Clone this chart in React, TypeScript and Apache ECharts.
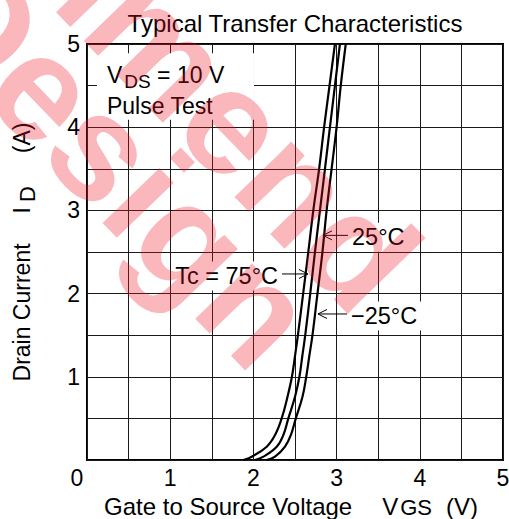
import { useEffect, useRef } from 'react';
import * as echarts from 'echarts';

// ---- data ----
const xTickValues = [0, 1, 2, 3, 4, 5];
const yTickValues = [0, 1, 2, 3, 4, 5];

// drain current levels (A) at which the three curves were read
const idLevels = [0, 0.04, 0.16, 0.3, 0.5, 0.76, 1, 1.25, 1.5, 2, 2.5, 3, 3.5, 4, 4.5, 5];
// gate-source voltage (V) of each curve at those currents
const vgsTc75 = [1.88, 1.98, 2.16, 2.26, 2.34, 2.41, 2.463, 2.5, 2.535, 2.598, 2.66, 2.72, 2.79, 2.85, 2.915, 2.98];
const vgsTc25 = [2.02, 2.12, 2.28, 2.36, 2.42, 2.5, 2.553, 2.588, 2.623, 2.683, 2.74, 2.8, 2.86, 2.92, 2.98, 3.04];
const vgsTcM25 = [2.16, 2.26, 2.38, 2.45, 2.51, 2.59, 2.635, 2.672, 2.71, 2.77, 2.83, 2.88, 2.94, 3.0, 3.05, 3.11];

const seriesNames = ['Tc = 75°C', '25°C', '−25°C'];

// annotation anchors in data units: arrow tail, arrow tip
const labelTexts = ['Tc = 75°C', '25°C', '−25°C'];
const arrowTails: [number, number][] = [[2.344, 2.236], [3.137, 2.7], [3.125, 1.755]];
const arrowTips: [number, number][] = [[2.656, 2.236], [2.836, 2.7], [2.776, 1.755]];

const FONT = "'Liberation Sans', Arial, Helvetica, sans-serif";

const toPairs = (xs: number[]) => idLevels.map((id, i) => [xs[i], id]);

export default function App() {
  const ref = useRef<HTMLDivElement>(null);

  useEffect(() => {
    if (!ref.current) return;
    const chart = echarts.init(ref.current, undefined, { renderer: 'svg' });

    const lineSeries = [vgsTc75, vgsTc25, vgsTcM25].map((xs, i) => ({
      name: seriesNames[i],
      type: 'line',
      data: toPairs(xs),
      smooth: 0.4,
      showSymbol: false,
      symbol: 'none',
      z: 3,
      lineStyle: { color: '#000', width: 2.2 },
    }));

    chart.setOption({
      animation: false,
      backgroundColor: '#fff',
      title: {
        text: 'Typical Transfer Characteristics',
        left: 290,
        top: 6,
        textAlign: 'center',
        textStyle: { fontFamily: FONT, fontSize: 24, fontWeight: 'normal', color: '#000' },
      },
      grid: {
        left: 87,
        top: 44,
        width: 416,
        height: 416,
        show: true,
        borderColor: '#000',
        borderWidth: 2,
        outerBoundsMode: 'none',
        containLabel: false,
      },
      xAxis: {
        type: 'value',
        min: 0,
        max: 5,
        interval: 0.5,
        axisLine: { show: false },
        axisTick: { show: false },
        splitLine: { show: true, lineStyle: { color: '#1a1a1a', width: 1 } },
        axisLabel: {
          margin: 6,
          color: '#000',
          fontFamily: FONT,
          fontSize: 23,
          formatter: (v: number) => {
            if (v === 0) return '{z|0}';
            return xTickValues.includes(v) ? String(v) : '';
          },
          rich: { z: { fontFamily: FONT, fontSize: 23, color: '#000', padding: [0, 20, 0, 0] } },
        },
        name: '{m|Gate to Source Voltage}{v|V}{s|GS}{u|(V)}',
        nameLocation: 'middle',
        nameGap: 33,
        nameTextStyle: {
          padding: [0, 8, 0, 0],
          rich: {
            m: { fontFamily: FONT, fontSize: 24, color: '#000', lineHeight: 22 },
            v: { fontFamily: FONT, fontSize: 24, color: '#000', lineHeight: 22, padding: [0, 0, 0, 30] },
            s: { fontFamily: FONT, fontSize: 22, color: '#000', lineHeight: 22, padding: [3, 0, 0, 2] },
            u: { fontFamily: FONT, fontSize: 24, color: '#000', lineHeight: 22, padding: [0, 0, 0, 14] },
          },
        },
      },
      yAxis: {
        type: 'value',
        min: 0,
        max: 5,
        interval: 0.5,
        axisLine: { show: false },
        axisTick: { show: false },
        splitLine: { show: true, lineStyle: { color: '#1a1a1a', width: 1 } },
        axisLabel: {
          margin: 7,
          color: '#000',
          fontFamily: FONT,
          fontSize: 23,
          formatter: (v: number) => (v !== 0 && yTickValues.includes(v) ? String(v) : ''),
        },
        name: '{m|Drain Current}{i|I}{s|D}{u|(A)}',
        nameLocation: 'middle',
        nameRotate: 90,
        nameGap: 52,
        nameTextStyle: {
          rich: {
            m: { fontFamily: FONT, fontSize: 23, color: '#000', lineHeight: 26 },
            i: { fontFamily: FONT, fontSize: 23, color: '#000', lineHeight: 26, padding: [0, 0, 0, 30] },
            s: { fontFamily: FONT, fontSize: 22, color: '#000', lineHeight: 26, padding: [10, 0, 0, 5] },
            u: { fontFamily: FONT, fontSize: 23, color: '#000', lineHeight: 26, padding: [0, 0, 0, 33] },
          },
        },
      },
      series: lineSeries,
    });

    const toPx = (p: number[]) => chart.convertToPixel({ gridIndex: 0 }, p) as number[];

    const boxA = toPx([0.12, 4.89]);
    const boxB = toPx([2.007, 4.09]);
    const vdsPos = toPx([0.24, 4.63]);
    const pulsePos = toPx([0.24, 4.25]);

    const graphics: any[] = [
      {
        type: 'rect',
        z: 1,
        shape: { x: boxA[0], y: boxA[1], width: boxB[0] - boxA[0], height: boxB[1] - boxA[1] },
        style: { fill: '#fff' },
      },
      {
        type: 'text',
        z: 5,
        x: vdsPos[0],
        y: vdsPos[1],
        style: {
          text: '{m|V}{s|DS}{m| = 10 V}',
          align: 'left',
          verticalAlign: 'middle',
          rich: {
            m: { fontFamily: FONT, fontSize: 23, fill: '#000', lineHeight: 26 },
            s: { fontFamily: FONT, fontSize: 19, fill: '#000', lineHeight: 26, padding: [13, 0, 0, 2] },
          },
        },
      },
      {
        type: 'text',
        z: 5,
        x: pulsePos[0],
        y: pulsePos[1],
        style: { text: 'Pulse Test', fontFamily: FONT, fontSize: 23, fill: '#000', align: 'left', verticalAlign: 'middle' },
      },
    ];

    labelTexts.forEach((t, i) => {
      const tail = toPx(arrowTails[i]);
      const tip = toPx(arrowTips[i]);
      const pointsLeft = tip[0] < tail[0];
      graphics.push({
        type: 'text',
        z: 5,
        x: tail[0],
        y: tail[1] + 2,
        style: {
          text: t,
          fontFamily: FONT,
          fontSize: 23.5,
          fill: '#000',
          align: pointsLeft ? 'left' : 'right',
          verticalAlign: 'middle',
          backgroundColor: '#fff',
          padding: [3, 4, 2, 4],
        },
      });
      graphics.push({
        type: 'line',
        z: 6,
        shape: { x1: tail[0], y1: tail[1], x2: tip[0], y2: tip[1] },
        style: { stroke: '#000', lineWidth: 1 },
      });
      const d = pointsLeft ? 1 : -1;
      graphics.push({
        type: 'polyline',
        z: 6,
        shape: { points: [[tip[0] + 9 * d, tip[1] - 4.5], [tip[0], tip[1]], [tip[0] + 9 * d, tip[1] + 4.5]] },
        style: { stroke: '#000', lineWidth: 1, fill: 'none' },
      });
    });

    // watermark
    const ang = (-46 * Math.PI) / 180;
    const wmStyle = {
      fontFamily: FONT,
      fontSize: 150,
      fontWeight: 'bold',
      fill: 'rgba(237, 20, 36, 0.3)',
      align: 'right',
      verticalAlign: 'middle',
    };
    graphics.push(
      { type: 'text', z: 100, x: 392, y: 285, rotation: ang, silent: true, style: { ...wmStyle, text: 'Not Recommend' } },
      { type: 'text', z: 100, x: 289, y: 341, rotation: ang, silent: true, style: { ...wmStyle, text: 'for New Design' } },
    );

    chart.setOption({ graphic: graphics });

    return () => chart.dispose();
  }, []);

  return <div ref={ref} style={{ position: 'fixed', left: 0, top: 0, width: 509, height: 519 }} />;
}
